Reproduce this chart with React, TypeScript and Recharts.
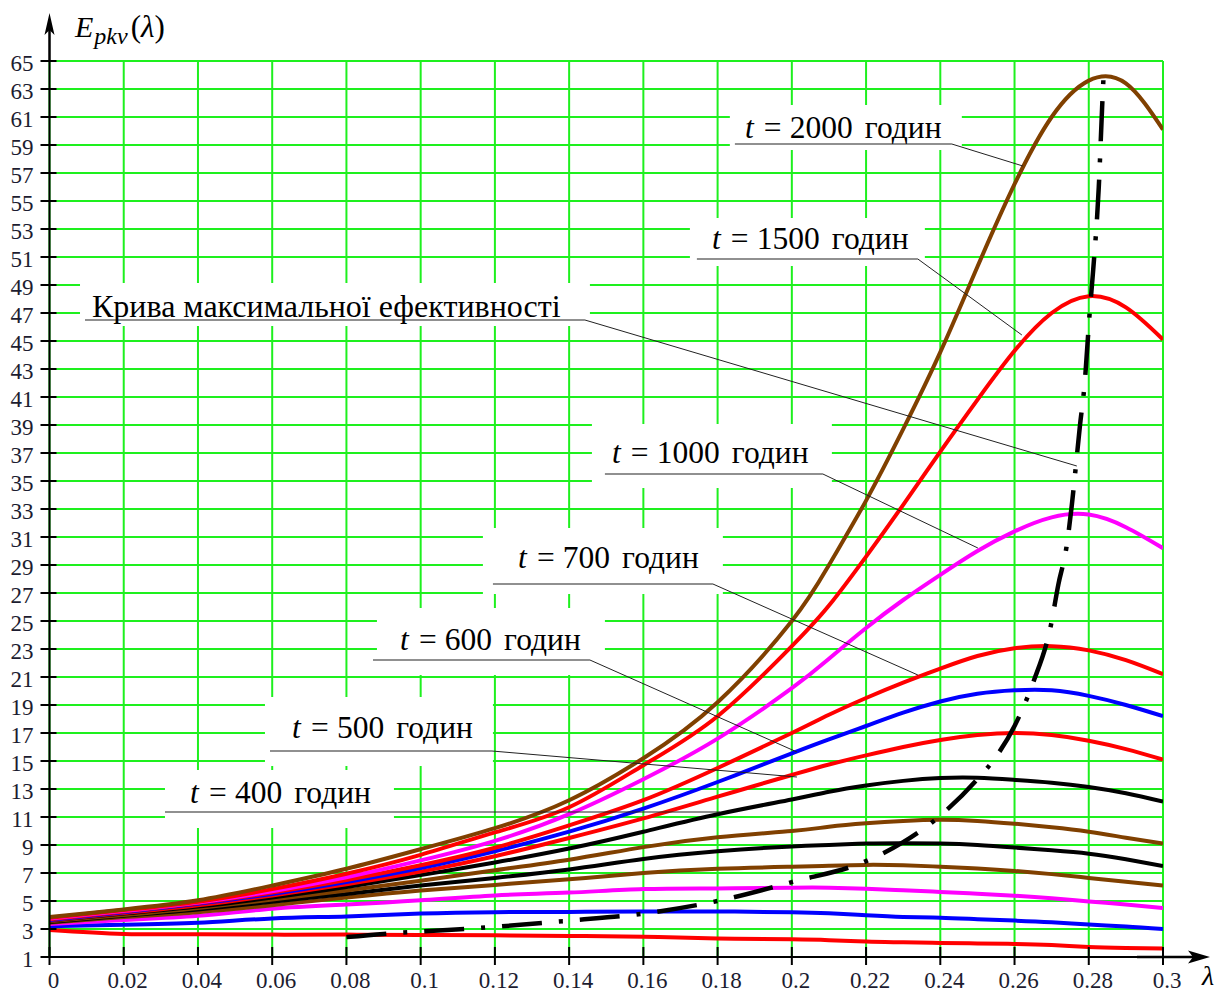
import React from 'react';
import {
  LineChart,
  Line,
  XAxis,
  YAxis,
  CartesianGrid,
  ReferenceArea,
  ReferenceLine,
  ReferenceDot,
} from 'recharts';

const FONT = "'Liberation Serif', 'Times New Roman', Times, serif";
const GRID = '#1ef01e';
const RED = '#ff0000';
const BLUE = '#0000ff';
const MAGENTA = '#ff00ff';
const BROWN = '#804000';
const BLACK = '#000000';

// ---- data ----
const lambdaValues = [0, 0.02, 0.04, 0.06, 0.08, 0.1, 0.12, 0.14, 0.16, 0.18, 0.2, 0.21, 0.22, 0.23, 0.24, 0.25, 0.26, 0.27, 0.28, 0.29, 0.3];

const redLow = [2.93, 2.65, 2.63, 2.6, 2.6, 2.57, 2.55, 2.5, 2.45, 2.32, 2.26, 2.2, 2.1, 2.05, 2.0, 1.97, 1.93, 1.85, 1.72, 1.65, 1.6];
const blueLow = [3.2, 3.3, 3.45, 3.75, 3.9, 4.1, 4.2, 4.22, 4.25, 4.25, 4.2, 4.12, 3.98, 3.86, 3.8, 3.7, 3.6, 3.48, 3.32, 3.18, 3.0];
const magentaLow = [3.35, 3.65, 3.95, 4.45, 4.75, 5.05, 5.4, 5.6, 5.85, 5.9, 5.95, 5.95, 5.88, 5.76, 5.65, 5.52, 5.38, 5.2, 4.97, 4.75, 4.5];
const brownLow = [3.45, 3.85, 4.2, 4.7, 5.25, 5.75, 6.15, 6.55, 7.0, 7.3, 7.45, 7.52, 7.58, 7.55, 7.45, 7.32, 7.15, 6.92, 6.65, 6.38, 6.1];
const blackLow = [3.5, 3.95, 4.4, 4.95, 5.5, 6.1, 6.65, 7.25, 8.0, 8.55, 8.9, 9.0, 9.1, 9.13, 9.1, 9.0, 8.82, 8.62, 8.38, 7.98, 7.5];
const brownMid = [3.55, 4.0, 4.5, 5.1, 5.75, 6.45, 7.2, 7.95, 8.85, 9.55, 10.0, 10.3, 10.55, 10.72, 10.8, 10.72, 10.52, 10.27, 9.95, 9.52, 9.1];
const t400 = [3.6, 4.1, 4.6, 5.25, 6.0, 6.85, 7.75, 8.75, 9.95, 11.2, 12.25, 12.8, 13.25, 13.58, 13.78, 13.8, 13.65, 13.45, 13.15, 12.7, 12.1];
const t500 = [3.62, 4.15, 4.7, 5.4, 6.2, 7.1, 8.2, 9.5, 10.9, 12.45, 14.0, 14.75, 15.4, 16.0, 16.5, 16.85, 17.0, 16.85, 16.45, 15.85, 15.1];
const t600 = [3.65, 4.2, 4.8, 5.5, 6.35, 7.35, 8.55, 9.95, 11.6, 13.5, 15.55, 16.55, 17.5, 18.45, 19.25, 19.8, 20.05, 20.05, 19.65, 19.0, 18.2];
const t700 = [3.7, 4.25, 4.85, 5.6, 6.5, 7.55, 8.8, 10.4, 12.2, 14.5, 17.0, 18.3, 19.5, 20.6, 21.6, 22.5, 23.05, 23.2, 22.9, 22.2, 21.2];
const t1000 = [3.75, 4.3, 4.9, 5.7, 6.7, 7.9, 9.3, 11.2, 13.7, 16.6, 20.2, 22.3, 24.5, 26.5, 28.3, 30.0, 31.4, 32.4, 32.6, 31.7, 30.2];
const t1500 = [3.8, 4.35, 4.95, 5.85, 6.95, 8.3, 9.9, 11.7, 14.7, 18.2, 23.2, 26.1, 29.6, 33.3, 37.1, 40.8, 44.3, 47.0, 48.2, 47.4, 45.1];
const t2000 = [3.85, 4.4, 5.05, 6.1, 7.3, 8.7, 10.2, 12.2, 15.2, 19.2, 25.0, 29.0, 33.6, 38.7, 44.2, 50.3, 56.2, 61.0, 63.6, 63.4, 60.1];

// maximum-efficiency curve
const effLambda = [0.08, 0.09, 0.1, 0.12, 0.14, 0.16, 0.18, 0.2, 0.22, 0.23, 0.24, 0.25, 0.255, 0.26, 0.265, 0.2698, 0.2718, 0.274, 0.2754, 0.2765, 0.2776, 0.2788, 0.2803, 0.2812, 0.2827, 0.2836, 0.284];
const effValues = [2.42, 2.65, 2.82, 3.15, 3.6, 4.1, 5.0, 6.35, 7.85, 9.2, 11.1, 13.7, 15.3, 17.5, 20.6, 24.7, 27.6, 30.3, 33.2, 36.0, 38.9, 41.7, 47.2, 50.1, 56.0, 61.7, 64.0];

const xTickValues = [0, 0.02, 0.04, 0.06, 0.08, 0.1, 0.12, 0.14, 0.16, 0.18, 0.2, 0.22, 0.24, 0.26, 0.28, 0.3];
const xTickLabels = ['0', '0.02', '0.04', '0.06', '0.08', '0.1', '0.12', '0.14', '0.16', '0.18', '0.2', '0.22', '0.24', '0.26', '0.28', '0.3'];
const yTickValues = [1, 3, 5, 7, 9, 11, 13, 15, 17, 19, 21, 23, 25, 27, 29, 31, 33, 35, 37, 39, 41, 43, 45, 47, 49, 51, 53, 55, 57, 59, 61, 63, 65];
const yTickLabels = ['1', '3', '5', '7', '9', '11', '13', '15', '17', '19', '21', '23', '25', '27', '29', '31', '33', '35', '37', '39', '41', '43', '45', '47', '49', '51', '53', '55', '57', '59', '61', '63', '65'];

const series = [
  { key: 'redLow', values: redLow, color: RED },
  { key: 'blueLow', values: blueLow, color: BLUE },
  { key: 'magentaLow', values: magentaLow, color: MAGENTA },
  { key: 'brownLow', values: brownLow, color: BROWN },
  { key: 'blackLow', values: blackLow, color: BLACK },
  { key: 'brownMid', values: brownMid, color: BROWN },
  { key: 't400', values: t400, color: BLACK },
  { key: 't500', values: t500, color: RED },
  { key: 't600', values: t600, color: BLUE },
  { key: 't700', values: t700, color: RED },
  { key: 't1000', values: t1000, color: MAGENTA },
  { key: 't1500', values: t1500, color: RED },
  { key: 't2000', values: t2000, color: BROWN },
];

const tableData = lambdaValues.map((lam, i) => {
  const row: Record<string, number> = { lam };
  series.forEach((s) => {
    row[s.key] = s.values[i];
  });
  return row;
});

const effData = effLambda.map((lam, i) => ({ lam, eff: effValues[i] }));

// ---- annotations (in data units) ----
type Ann = {
  num?: string;
  text?: string;
  box: [number, number, number, number];
  anchor: [number, number];
  under: [number, number, number];
  tip?: [number, number];
};

const annotations: Ann[] = [
  { num: '2000', box: [0.1833, 0.2458, 58.64, 61.86], anchor: [0.18735, 59.5], under: [0.18466, 0.24311, 59.07], tip: [0.26224, 57.5] },
  { num: '1500', box: [0.17254, 0.23584, 50.357, 53.786], anchor: [0.17846, 51.571], under: [0.17442, 0.23395, 50.857], tip: [0.26197, 45.429] },
  { text: 'Крива максимальної ефективності', box: [0.00822, 0.1456, 46.071, 49.143], anchor: [0.01145, 46.714], under: [0.00956, 0.14425, 46.5], tip: [0.27678, 36.071] },
  { num: '1000', box: [0.14614, 0.21079, 34.5, 39.071], anchor: [0.15152, 36.286], under: [0.14964, 0.20836, 35.5], tip: [0.25012, 30.214] },
  { num: '700', box: [0.11677, 0.18142, 26.929, 31.643], anchor: [0.1262, 28.786], under: [0.11947, 0.17873, 27.643], tip: [0.23395, 21.143] },
  { num: '600', box: [0.08822, 0.14964, 21.143, 25.929], anchor: [0.09441, 22.929], under: [0.08715, 0.1456, 22.214], tip: [0.20137, 15.643] },
  { num: '500', box: [0.05805, 0.11947, 14.643, 19.571], anchor: [0.06532, 16.643], under: [0.0594, 0.1192, 15.714], tip: [0.20137, 13.857] },
  { num: '400', box: [0.03111, 0.0928, 10.214, 14.357], anchor: [0.03785, 12.0], under: [0.03111, 0.18062, 11.357] },
];

const renderAnnText = (cx: number, cy: number, a: Ann) => {
  if (a.text) {
    return (
      <text x={cx} y={cy} fontFamily={FONT} fontSize={32} fill="#000">
        {a.text}
      </text>
    );
  }
  return (
    <text x={cx} y={cy} fontFamily={FONT} fontSize={31.5} fill="#000">
      <tspan fontStyle="italic">t</tspan>
      <tspan dx={10.2}>=</tspan>
      <tspan dx={8.2}>{a.num}</tspan>
      <tspan dx={12}>годин</tspan>
    </text>
  );
};

const renderYTick = (props: any) => {
  const { x, y, index } = props;
  return (
    <g>
      <line x1={x - 9} x2={x + 7} y1={y} y2={y} stroke="#000" strokeWidth={2} />
      <text x={x - 16} y={y + 10} textAnchor="end" fontFamily={FONT} fontSize={23} fill="#1c1c30">
        {yTickLabels[index]}
      </text>
    </g>
  );
};

const renderXTick = (props: any) => {
  const { x, y, index } = props;
  return (
    <g>
      <line x1={x} x2={x} y1={y - 10} y2={y + 8} stroke="#000" strokeWidth={2} />
      <text x={x + 4} y={y + 31} textAnchor="middle" fontFamily={FONT} fontSize={23} fill="#1c1c30">
        {xTickLabels[index]}
      </text>
    </g>
  );
};

const renderYArrow = (p: any) => {
  const { cx, cy } = p;
  return (
    <g>
      <line x1={cx} x2={cx} y1={cy} y2={cy - 40} stroke="#000" strokeWidth={2.5} />
      <polygon points={`${cx},${cy - 48} ${cx + 5},${cy - 26} ${cx},${cy - 31} ${cx - 5},${cy - 26}`} fill="#000" />
      <text x={cx + 25.5} y={cy - 24} fontFamily={FONT} fill="#000">
        <tspan fontSize={30} fontStyle="italic">E</tspan>
        <tspan fontSize={24} fontStyle="italic" dy={7} dx={1}>pkv</tspan>
        <tspan fontSize={31} dy={-7} dx={3}>(</tspan>
        <tspan fontSize={31} fontStyle="italic">λ</tspan>
        <tspan fontSize={31}>)</tspan>
      </text>
    </g>
  );
};

const renderXArrow = (p: any) => {
  const { cx, cy } = p;
  return (
    <g>
      <line x1={cx - 26} x2={cx + 40} y1={cy} y2={cy} stroke="#000" strokeWidth={2.5} />
      <polygon points={`${cx + 47},${cy} ${cx + 25},${cy - 6.5} ${cx + 30},${cy} ${cx + 25},${cy + 6.5}`} fill="#000" />
      <text x={cx + 39} y={cy + 28} fontFamily={FONT} fontSize={28} fontStyle="italic" fill="#000">
        λ
      </text>
    </g>
  );
};

export default function App() {
  return (
    <div style={{ position: 'absolute', left: 0, top: 0, width: 1230, height: 992, background: '#fff' }}>
      <LineChart
        width={1230}
        height={992}
        data={tableData}
        margin={{ top: 61, right: 67, left: 0, bottom: 0 }}
      >
        <CartesianGrid stroke={GRID} strokeWidth={2} />
        <XAxis
          dataKey="lam"
          type="number"
          domain={[0, 0.3]}
          ticks={xTickValues}
          interval={0}
          allowDataOverflow
          tickLine={false}
          tickSize={0}
          tickMargin={0}
          axisLine={{ stroke: '#000', strokeWidth: 2 }}
          height={35}
          tick={renderXTick}
        />
        <YAxis
          type="number"
          domain={[1, 65]}
          ticks={yTickValues}
          interval={0}
          allowDataOverflow
          tickLine={false}
          tickSize={0}
          tickMargin={0}
          axisLine={{ stroke: '#000', strokeWidth: 2 }}
          width={49.5}
          tick={renderYTick}
        />
        {annotations.map((a, i) => (
          <ReferenceArea
            key={'box' + i}
            x1={a.box[0]}
            x2={a.box[1]}
            y1={a.box[2]}
            y2={a.box[3]}
            fill="#ffffff"
            fillOpacity={1}
            stroke="none"
            ifOverflow="visible"
          />
        ))}
        {series.map((s) => (
          <Line
            key={s.key}
            dataKey={s.key}
            stroke={s.color}
            strokeWidth={4}
            type="natural"
            dot={false}
            activeDot={false}
            isAnimationActive={false}
          />
        ))}
        <Line
          data={effData}
          dataKey="eff"
          stroke="#000"
          strokeWidth={4.5}
          strokeDasharray="40 17 4 17"
          strokeLinecap="butt"
          type="monotone"
          dot={false}
          activeDot={false}
          isAnimationActive={false}
        />
        {annotations.map((a, i) => (
          <ReferenceLine
            key={'ul' + i}
            segment={[
              { x: a.under[0], y: a.under[2] },
              { x: a.under[1], y: a.under[2] },
            ]}
            stroke="#222"
            strokeWidth={1.2}
            ifOverflow="visible"
          />
        ))}
        {annotations
          .filter((a) => a.tip)
          .map((a, i) => (
            <ReferenceLine
              key={'ld' + i}
              segment={[
                { x: a.under[1], y: a.under[2] },
                { x: a.tip![0], y: a.tip![1] },
              ]}
              stroke="#222"
              strokeWidth={1}
              ifOverflow="visible"
            />
          ))}
        {annotations.map((a, i) => (
          <ReferenceDot
            key={'tx' + i}
            x={a.anchor[0]}
            y={a.anchor[1]}
            ifOverflow="visible"
            shape={(p: any) => renderAnnText(p.cx, p.cy, a)}
          />
        ))}
        <ReferenceDot x={0} y={65} ifOverflow="visible" shape={renderYArrow} />
        <ReferenceDot x={0.3} y={1} ifOverflow="visible" shape={renderXArrow} />
      </LineChart>
    </div>
  );
}
